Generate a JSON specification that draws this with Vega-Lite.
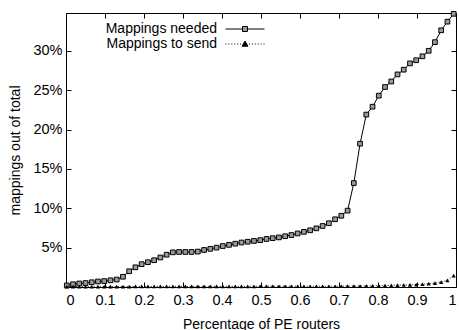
{
  "$schema": "https://vega.github.io/schema/vega-lite/v6.json",
  "width": 390,
  "height": 274,
  "autosize": {"type": "none"},
  "padding": {"left": 66, "top": 13, "right": 3, "bottom": 43},
  "background": "white",
  "config": {
    "font": "Liberation Sans",
    "view": {"stroke": "black", "strokeWidth": 1},
    "axis": {
      "grid": false,
      "domain": false,
      "tickColor": "black",
      "tickSize": -5,
      "tickWidth": 1,
      "labelColor": "black",
      "labelFontSize": 14.5,
      "labelFont": "Liberation Sans",
      "titleFont": "Liberation Sans",
      "titleFontSize": 14,
      "titleFontWeight": "normal",
      "titleColor": "black"
    },
    "legend": {
      "orient": "none",
      "legendX": 172,
      "legendY": 9,
      "padding": 0,
      "title": null,
      "symbolSize": 95,
      "labelAlign": "right",
      "labelOffset": -35,
      "labelFontSize": 14,
      "labelFont": "Liberation Sans",
      "labelColor": "black",
      "labelLimit": 0,
      "symbolStrokeColor": "black",
      "symbolStrokeWidth": 1,
      "rowPadding": 1
    }
  },
  "data": {
    "values": [
      {"x": 0.002, "needed": 0.2, "send": 0.05},
      {"x": 0.018, "needed": 0.35, "send": 0.05},
      {"x": 0.034, "needed": 0.45, "send": 0.05},
      {"x": 0.050, "needed": 0.5, "send": 0.05},
      {"x": 0.066, "needed": 0.6, "send": 0.05},
      {"x": 0.082, "needed": 0.7, "send": 0.05},
      {"x": 0.098, "needed": 0.75, "send": 0.05},
      {"x": 0.114, "needed": 0.85, "send": 0.05},
      {"x": 0.130, "needed": 0.95, "send": 0.05},
      {"x": 0.146, "needed": 1.3, "send": 0.05},
      {"x": 0.162, "needed": 2.0, "send": 0.05},
      {"x": 0.178, "needed": 2.5, "send": 0.08},
      {"x": 0.194, "needed": 2.9, "send": 0.08},
      {"x": 0.210, "needed": 3.15, "send": 0.08},
      {"x": 0.226, "needed": 3.4, "send": 0.08},
      {"x": 0.242, "needed": 3.75, "send": 0.08},
      {"x": 0.258, "needed": 4.1, "send": 0.08},
      {"x": 0.274, "needed": 4.4, "send": 0.08},
      {"x": 0.290, "needed": 4.45, "send": 0.08},
      {"x": 0.306, "needed": 4.45, "send": 0.08},
      {"x": 0.322, "needed": 4.45, "send": 0.08},
      {"x": 0.338, "needed": 4.5, "send": 0.08},
      {"x": 0.354, "needed": 4.7, "send": 0.08},
      {"x": 0.370, "needed": 4.85, "send": 0.08},
      {"x": 0.386, "needed": 5.0, "send": 0.08},
      {"x": 0.402, "needed": 5.2, "send": 0.08},
      {"x": 0.418, "needed": 5.35, "send": 0.08},
      {"x": 0.434, "needed": 5.5, "send": 0.08},
      {"x": 0.450, "needed": 5.65, "send": 0.08},
      {"x": 0.466, "needed": 5.75, "send": 0.08},
      {"x": 0.482, "needed": 5.85, "send": 0.08},
      {"x": 0.498, "needed": 5.95, "send": 0.1},
      {"x": 0.514, "needed": 6.1, "send": 0.1},
      {"x": 0.530, "needed": 6.2, "send": 0.1},
      {"x": 0.546, "needed": 6.3, "send": 0.1},
      {"x": 0.562, "needed": 6.45, "send": 0.1},
      {"x": 0.578, "needed": 6.6, "send": 0.1},
      {"x": 0.594, "needed": 6.8, "send": 0.1},
      {"x": 0.610, "needed": 7.0, "send": 0.1},
      {"x": 0.626, "needed": 7.2, "send": 0.1},
      {"x": 0.642, "needed": 7.45, "send": 0.1},
      {"x": 0.658, "needed": 7.75, "send": 0.1},
      {"x": 0.674, "needed": 8.1, "send": 0.1},
      {"x": 0.690, "needed": 8.6, "send": 0.1},
      {"x": 0.706, "needed": 9.05, "send": 0.1},
      {"x": 0.722, "needed": 9.7, "send": 0.11},
      {"x": 0.738, "needed": 13.2, "send": 0.12},
      {"x": 0.754, "needed": 18.2, "send": 0.13},
      {"x": 0.770, "needed": 21.9, "send": 0.14},
      {"x": 0.786, "needed": 22.9, "send": 0.15},
      {"x": 0.802, "needed": 24.3, "send": 0.17},
      {"x": 0.818, "needed": 25.4, "send": 0.19},
      {"x": 0.834, "needed": 26.1, "send": 0.21},
      {"x": 0.850, "needed": 27.0, "send": 0.23},
      {"x": 0.866, "needed": 27.6, "send": 0.25},
      {"x": 0.882, "needed": 28.4, "send": 0.28},
      {"x": 0.898, "needed": 28.8, "send": 0.31},
      {"x": 0.914, "needed": 29.3, "send": 0.35},
      {"x": 0.930, "needed": 30.0, "send": 0.42},
      {"x": 0.946, "needed": 31.1, "send": 0.5},
      {"x": 0.962, "needed": 32.6, "send": 0.62},
      {"x": 0.978, "needed": 33.7, "send": 0.85},
      {"x": 0.994, "needed": 34.7, "send": 1.45}
    ]
  },
  "resolve": {"axis": {"x": "independent", "y": "independent"}, "scale": {"shape": "independent", "fill": "independent", "stroke": "independent"}},
  "layer": [
    {
      "mark": {"type": "line", "color": "black", "strokeWidth": 1},
      "encoding": {
        "x": {"field": "x", "type": "quantitative",
              "scale": {"domain": [0, 1], "nice": false, "zero": false},
              "axis": {"values": [0, 0.1, 0.2, 0.3, 0.4, 0.5, 0.6, 0.7, 0.8, 0.9, 1], "format": "~g",
                       "labelPadding": 11, "title": "Percentage of PE routers",
                       "titleBaseline": "alphabetic", "titleY": 41}},
        "y": {"field": "needed", "type": "quantitative",
              "scale": {"domain": [0, 34.8], "nice": false},
              "axis": {"values": [5, 10, 15, 20, 25, 30], "labelExpr": "datum.value + '%'",
                       "labelPadding": 9, "title": "mappings out of total",
                       "titleBaseline": "alphabetic", "titleX": -47}}
      }
    },
    {
      "mark": {"type": "point", "shape": "square", "filled": true, "fill": "#9a9a9a", "stroke": "black", "strokeWidth": 1, "size": 22, "opacity": 1, "clip": false},
      "encoding": {
        "x": {"field": "x", "type": "quantitative", "axis": null},
        "y": {"field": "needed", "type": "quantitative", "axis": null}
      }
    },
    {
      "mark": {"type": "line", "color": "black", "strokeWidth": 1, "strokeDash": [1, 2]},
      "encoding": {
        "x": {"field": "x", "type": "quantitative",
              "axis": {"orient": "top", "values": [0, 0.1, 0.2, 0.3, 0.4, 0.5, 0.6, 0.7, 0.8, 0.9, 1], "labels": false, "title": null}},
        "y": {"field": "send", "type": "quantitative",
              "axis": {"orient": "right", "values": [5, 10, 15, 20, 25, 30], "labels": false, "title": null}}
      }
    },
    {
      "mark": {"type": "point", "shape": "triangle-up", "filled": true, "color": "black", "size": 18, "opacity": 1, "clip": false},
      "encoding": {
        "x": {"field": "x", "type": "quantitative", "axis": null},
        "y": {"field": "send", "type": "quantitative", "axis": null}
      }
    },
    {
      "transform": [{"filter": "false"}],
      "mark": {"type": "point", "filled": false, "strokeWidth": 1, "opacity": 1},
      "encoding": {
        "shape": {"field": "series", "type": "nominal",
                  "scale": {"domain": ["Mappings needed", "Mappings to send"],
                            "range": ["M-4,0H-0.51M0.51,0H4M-0.51,-0.51H0.51V0.51H-0.51Z",
                                      "M-4,0H-3.8M-3.4,0H-3.2M-2.8,0H-2.6M-2.2,0H-2M-1.6,0H-1.4M-1,0H-0.8M0.8,0H1M1.4,0H1.6M2,0H2.2M2.6,0H2.8M3.2,0H3.4M3.8,0H4M0,-0.6L0.6,0.45L-0.6,0.45Z"]}},
        "fill": {"field": "series", "type": "nominal",
                 "scale": {"domain": ["Mappings needed", "Mappings to send"], "range": ["#9a9a9a", "black"]}},
        "stroke": {"field": "series", "type": "nominal",
                 "scale": {"domain": ["Mappings needed", "Mappings to send"], "range": ["black", "black"]}}
      }
    }
  ]
}
